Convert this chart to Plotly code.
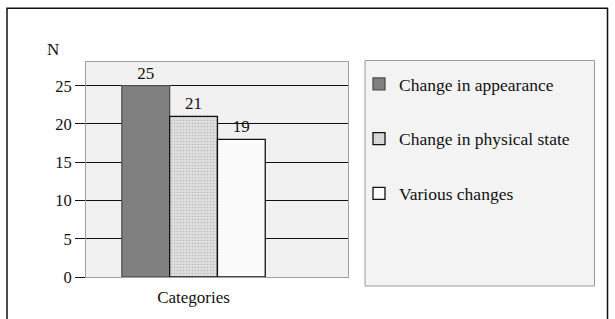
import plotly.graph_objects as go

# Data
categories = ["Categories"]
series_names = ["Change in appearance", "Change in physical state", "Various changes"]
bar_values = [25, 21, 18]
bar_labels = ["25", "21", "19"]
y_ticks = [0, 5, 10, 15, 20, 25]

fills = ["#808080", "#dedede", "#fbfbfb"]
edges = ["#505050", "#111111", "#111111"]
patterns = ["", ".", ""]

FONT = "Liberation Serif"

W, H = 615, 319
L, R, T, B = 86, 267, 62, 42
PW, PH = W - L - R, H - T - B

def px_x(px):
    return (px - L) / PW

def px_y(py):
    return (H - B - py) / PH

fig = go.Figure()
for i, name in enumerate(series_names):
    fig.add_trace(go.Bar(
        x=categories,
        y=[bar_values[i]],
        name=name,
        text=[bar_labels[i]],
        textposition="outside",
        textfont=dict(family=FONT, size=17, color="#111"),
        cliponaxis=False,
        legendgroup=f"g{i}",
        marker=dict(
            color=fills[i],
            line=dict(color=edges[i], width=1.3),
            pattern=dict(shape=patterns[i], fgcolor="#9a9a9a", bgcolor=fills[i],
                         size=3, solidity=0.25),
        ),
    ))

fig.update_layout(
    width=W, height=H,
    margin=dict(l=L, r=R, t=T, b=B, pad=0),
    paper_bgcolor="white",
    plot_bgcolor="#f1f1f1",
    barmode="group",
    bargap=0.3,
    bargroupgap=0,
    font=dict(family=FONT, size=17, color="#111"),
    showlegend=True,
    legend=dict(
        x=px_x(359), y=px_y(66), xanchor="left", yanchor="top",
        bgcolor="rgba(0,0,0,0)", borderwidth=0,
        font=dict(family=FONT, size=17.5, color="#111"),
        traceorder="grouped", tracegroupgap=29,
    ),
    xaxis=dict(
        type="category",
        range=[-0.525, 0.754],
        showgrid=False,
        showline=True, linecolor="#a0a0a0", linewidth=1, mirror=True,
        ticks="",
        ticklabelstandoff=5,
        tickfont=dict(family=FONT, size=17, color="#111"),
    ),
    yaxis=dict(
        range=[0, 28.1],
        tickvals=y_ticks,
        showgrid=True, gridcolor="#111111", gridwidth=1,
        zeroline=False,
        showline=True, linecolor="#a0a0a0", linewidth=1, mirror=True,
        ticks="outside", ticklen=10, tickcolor="#111", tickwidth=1,
        tickfont=dict(family=FONT, size=16.5, color="#111"),
    ),
    shapes=[
        # legend box
        dict(type="rect", xref="paper", yref="paper", layer="below",
             x0=px_x(365), x1=px_x(594.5), y0=px_y(286), y1=px_y(60.5),
             line=dict(color="#9a9a9a", width=1), fillcolor="#f3f3f3"),
        # outer frame
        dict(type="rect", xref="paper", yref="paper", layer="below",
             x0=px_x(7), x1=px_x(607.5), y0=px_y(330), y1=px_y(8.3),
             line=dict(color="#111", width=1.5), fillcolor="rgba(0,0,0,0)"),
    ],
    annotations=[
        dict(text="N", xref="paper", yref="paper", x=px_x(53), y=px_y(49),
             xanchor="center", yanchor="middle",
             showarrow=False, font=dict(family=FONT, size=17, color="#111")),
    ],
)

fig.write_html("out.html", config={"displayModeBar": False},
               post_script="document.body.style.margin='0';")
